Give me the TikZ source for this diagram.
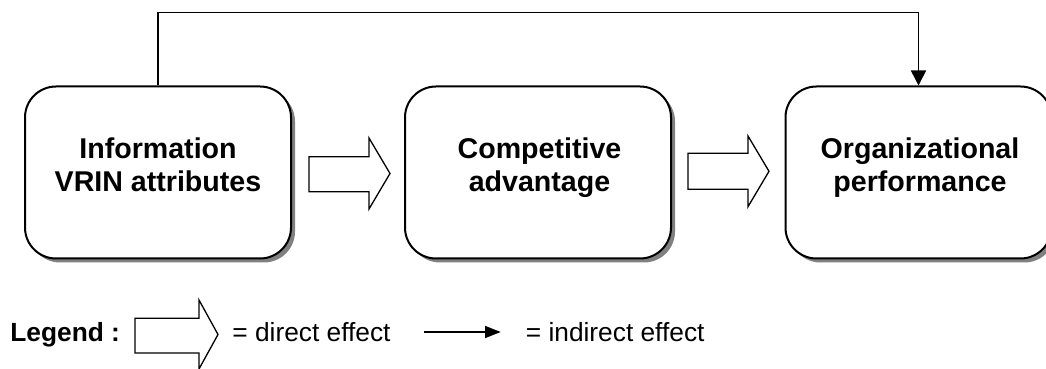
\documentclass[tikz,border=0pt]{standalone}
\usepackage{fontspec}
\setmainfont{Liberation Sans}
\usetikzlibrary{arrows.meta,shadows}
\begin{document}
\begin{tikzpicture}[x=0.5pt,y=-0.5pt,
  box/.style={draw=black, line width=1pt, fill=white, rounded corners=15.5pt,
    minimum width=133pt, minimum height=86pt, inner sep=0pt,
    drop shadow={shadow xshift=2pt, shadow yshift=-2pt, fill=black!50, opacity=1}},
  boxtext/.style={align=center, font=\fontsize{14.3}{16.35}\selectfont\bfseries,
    inner sep=0pt, anchor=base},
  blockarrow/.style={draw=black, line width=0.65pt, fill=white, line join=miter},
  legendtext/.style={font=\fontsize{13.15}{15}\selectfont, inner sep=0pt, anchor=base west},
  link/.style={draw=black, line width=0.75pt, -{Triangle[width=7.5pt,length=7.5pt]}},
  smalllink/.style={draw=black, line width=0.65pt, -{Triangle[width=6pt,length=7.8pt]}},
]
\useasboundingbox (0,0) rectangle (1046,369);
\clip (0,0) rectangle (1046,369);

% boxes
\node[box] (b1) at (158,172.5) {};
\node[box] (b2) at (538,172.5) {};
\node[box] (b3) at (918.5,172.5) {};

% anchor=base is the baseline of the last line
\node[boxtext] (t1) at (158,191.7) {Information\\VRIN attributes};
\node[boxtext] (t2) at (539.5,191.7) {Competitive\\advantage};
\node[boxtext] (t3) at (920,191.7) {Organizational\\performance};

% block arrows (direct effects)
\draw[blockarrow] (309,156.7) -- (369,156.7) -- (369,138) -- (390,173.5)
  -- (369,209) -- (369,191.7) -- (309,191.7) -- cycle;
\draw[blockarrow] (688,153.3) -- (748,153.3) -- (748,136) -- (769,171.3)
  -- (748,206.7) -- (748,189.3) -- (688,189.3) -- cycle;

% indirect effect
\draw[link] (b1.north) -- ++(0,-73.2) -| (b3.north);

% legend
\node[legendtext, font=\fontsize{13.15}{15}\selectfont\bfseries] (leg) at (10,341.7) {Legend :};
\draw[blockarrow] (135,318.3) -- (199,318.3) -- (199,300) -- (218,334.5)
  -- (199,369) -- (199,353) -- (135,353) -- cycle;
\node[legendtext] (ld) at (232,341.7) {= direct effect};
\coordinate (la) at (424,332);
\coordinate (lb) at (500.7,332);
\draw[smalllink] (la) -- (lb);
\node[legendtext] (li) at (525.5,341.7) {= indirect effect};
\end{tikzpicture}
\end{document}
